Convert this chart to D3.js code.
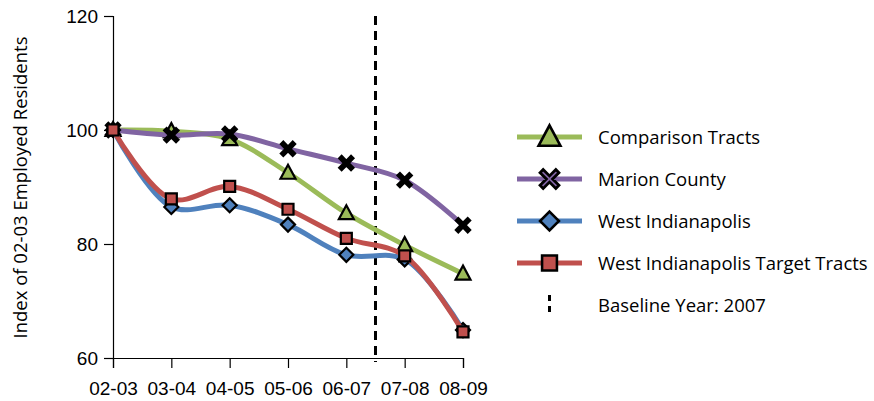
<!DOCTYPE html>
<html>
<head>
<meta charset="utf-8">
<script src="https://cdn.jsdelivr.net/npm/d3@7"></script>
<style>
  html, body { margin: 0; padding: 0; background: #fff; }
  svg { display: block; font-family: "Open Sans", "DejaVu Sans", sans-serif; }
</style>
</head>
<body>
<svg id="chart" width="874" height="401"></svg>
<script>
// School-year periods on the x axis
const periods = ["02-03", "03-04", "04-05", "05-06", "06-07", "07-08", "08-09"];

// Index of 02-03 employed residents (02-03 = 100)
const comparisonTracts = [100, 99.8, 98.4, 92.5, 85.4, 79.8, 74.8];
const marionCounty     = [100, 99.1, 99.3, 96.7, 94.2, 91.2, 83.3];
const westIndianapolis = [100, 86.5, 86.8, 83.4, 78.1, 77.3, 64.9];
const westIndyTarget   = [100, 87.9, 90.1, 86.1, 81.0, 77.9, 64.6];

const yTicks = [60, 80, 100, 120];
const baselineLabel = "Baseline Year: 2007";
const baselineBetween = ["06-07", "07-08"];

const series = [
  { name: "Comparison Tracts", values: comparisonTracts, color: "#9BBB59", marker: "triangle" },
  { name: "Marion County", values: marionCounty, color: "#8064A2", marker: "cross" },
  { name: "West Indianapolis", values: westIndianapolis, color: "#4F81BD", marker: "diamond" },
  { name: "West Indianapolis Target Tracts", values: westIndyTarget, color: "#C0504D", marker: "square" }
];

const svg = d3.select("#chart");
const plot = { left: 113, right: 463, top: 16, bottom: 358 };

const x = d3.scalePoint().domain(periods).range([plot.left, plot.right]);
const y = d3.scaleLinear().domain([60, 120]).range([plot.bottom, plot.top]);

// Y axis
const yAxis = svg.append("g")
  .attr("transform", `translate(${plot.left},0)`)
  .call(d3.axisLeft(y).tickValues(yTicks).tickSize(9).tickPadding(6));
yAxis.select(".domain").attr("stroke", "#000").attr("stroke-width", 1.2);
yAxis.selectAll(".tick line").attr("stroke", "#000").attr("stroke-width", 1.2);
yAxis.selectAll(".tick text").attr("font-size", 19).attr("fill", "#000").attr("dy", "0.34em");

// X axis
const xAxis = svg.append("g")
  .attr("transform", `translate(0,${plot.bottom})`)
  .call(d3.axisBottom(x).tickSize(10).tickPadding(14));
xAxis.select(".domain").attr("stroke", "#000").attr("stroke-width", 1.2);
xAxis.selectAll(".tick line").attr("stroke", "#000").attr("stroke-width", 1.2);
xAxis.selectAll(".tick text").attr("font-size", 19).attr("fill", "#000");

// Y axis title
svg.append("text")
  .attr("transform", `translate(27,187.5) rotate(-90)`)
  .attr("text-anchor", "middle")
  .attr("font-size", 18.5)
  .attr("fill", "#000")
  .text("Index of 02-03 Employed Residents");

// Baseline marker between two periods
const baseX = (x(baselineBetween[0]) + x(baselineBetween[1])) / 2;
svg.append("line")
  .attr("x1", baseX).attr("x2", baseX)
  .attr("y1", plot.top).attr("y2", plot.bottom + 4)
  .attr("stroke", "#000").attr("stroke-width", 3)
  .attr("stroke-dasharray", "9,6");

// Smoothed series lines
const line = d3.line()
  .x((d, i) => x(periods[i]))
  .y(d => y(d))
  .curve(d3.curveCatmullRom.alpha(0.5));

// Marker shapes; k scales the symbol size
function drawMarker(g, type, color, cx, cy, k = 1) {
  const s = g.append("path").attr("stroke", "#000").attr("stroke-width", 2.2 * Math.sqrt(k))
    .attr("stroke-linejoin", "miter").attr("fill", color);
  if (type === "triangle") {
    s.attr("d", `M${cx},${cy - 8 * k}L${cx + 7.5 * k},${cy + 6 * k}L${cx - 7.5 * k},${cy + 6 * k}Z`);
  } else if (type === "diamond") {
    s.attr("d", `M${cx},${cy - 7 * k}L${cx + 7 * k},${cy}L${cx},${cy + 7 * k}L${cx - 7 * k},${cy}Z`);
  } else if (type === "square") {
    const h = 5.5 * k;
    s.attr("d", `M${cx - h},${cy - h}h${2 * h}v${2 * h}h${-2 * h}Z`);
  } else if (type === "cross") {
    const a = 7 * k, w = 2.3 * k;
    s.attr("d",
      `M${cx - a},${cy - a + w}L${cx - a + w},${cy - a}L${cx},${cy - w}L${cx + a - w},${cy - a}L${cx + a},${cy - a + w}` +
      `L${cx + w},${cy}L${cx + a},${cy + a - w}L${cx + a - w},${cy + a}L${cx},${cy + w}L${cx - a + w},${cy + a}` +
      `L${cx - a},${cy + a - w}L${cx - w},${cy}Z`)
      .attr("stroke-width", 2.4 * Math.sqrt(k));
  }
  return s;
}

series.forEach(s => {
  const g = svg.append("g");
  g.append("path")
    .attr("d", line(s.values))
    .attr("fill", "none")
    .attr("stroke", s.color)
    .attr("stroke-width", 5)
    .attr("stroke-linecap", "round");
  // small crosses on the plot render as solid black
  const fill = s.marker === "cross" ? "#000" : s.color;
  s.values.forEach((v, i) => drawMarker(g, s.marker, fill, x(periods[i]), y(v)));
});

// Legend
const legend = svg.append("g");
const legendRowY = d3.scalePoint().domain(d3.range(5)).range([137, 305]);
series.forEach((s, i) => {
  const ly = legendRowY(i);
  legend.append("line")
    .attr("x1", 517).attr("x2", 582).attr("y1", ly).attr("y2", ly)
    .attr("stroke", s.color).attr("stroke-width", 5);
  drawMarker(legend, s.marker, s.color, 549.5, ly, s.marker === "triangle" ? 1.45 : 1.35);
  legend.append("text")
    .attr("x", 598).attr("y", ly).attr("dy", "0.36em")
    .attr("font-size", 18.5).attr("fill", "#000")
    .text(s.name);
});
const by = legendRowY(4);
legend.append("line")
  .attr("x1", 549.5).attr("x2", 549.5).attr("y1", by - 10).attr("y2", by + 12)
  .attr("stroke", "#000").attr("stroke-width", 3).attr("stroke-dasharray", "6,5");
legend.append("text")
  .attr("x", 598).attr("y", by).attr("dy", "0.36em")
  .attr("font-size", 18.5).attr("fill", "#000")
  .text(baselineLabel);
</script>
</body>
</html>
